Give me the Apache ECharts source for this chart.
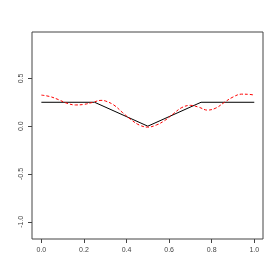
<!DOCTYPE html>
<html><head><meta charset="utf-8">
<script src="https://cdn.jsdelivr.net/npm/echarts@6/dist/echarts.min.js"></script>
<style>html,body{margin:0;padding:0;background:#fff}#c{width:280px;height:280px}</style>
</head><body><div id="c"></div>
<script>
const xTicks = [0, 0.2, 0.4, 0.6, 0.8, 1.0];
const yTicks = [-1.0, -0.5, 0.0, 0.5];
const trueX = [0, 0.25, 0.5, 0.75, 1.0];
const trueY = [0.25, 0.25, 0.0, 0.25, 0.25];
const fitX = [0, 0.04, 0.08, 0.12, 0.16, 0.2, 0.24, 0.28, 0.3, 0.34, 0.38, 0.42, 0.46, 0.5, 0.54, 0.58, 0.62, 0.66, 0.70, 0.74, 0.78, 0.82, 0.86, 0.90, 0.94, 0.98, 1.0];
const fitY = [0.325, 0.31, 0.278, 0.24, 0.222, 0.228, 0.248, 0.27, 0.264, 0.222, 0.145, 0.07, 0.012, -0.01, 0.012, 0.06, 0.13, 0.195, 0.218, 0.198, 0.168, 0.19, 0.25, 0.305, 0.335, 0.332, 0.325];

const chart = echarts.init(document.getElementById('c'), null, {renderer: 'canvas'});
const lab = {color: '#444', fontSize: 7, fontFamily: 'Liberation Sans, Arial, sans-serif'};
chart.setOption({
  animation: false,
  grid: {left: 32, top: 32, right: 17, bottom: 41, show: true, borderColor: '#444', borderWidth: 1, backgroundColor: 'transparent'},
  xAxis: {
    type: 'value', min: -0.044, max: 1.041, position: 'bottom',
    axisLine: {show: false, onZero: false},
    splitLine: {show: false},
    axisTick: {show: true, length: 4, lineStyle: {color: '#444'}, customValues: xTicks},
    axisLabel: Object.assign({margin: 8, customValues: xTicks, formatter: v => v.toFixed(1)}, lab)
  },
  yAxis: {
    type: 'value', min: -1.18, max: 0.985, position: 'left',
    axisLine: {show: false, onZero: false},
    splitLine: {show: false},
    axisTick: {show: true, length: 4, lineStyle: {color: '#444'}, customValues: yTicks},
    axisLabel: Object.assign({margin: 7, rotate: 90, customValues: yTicks, formatter: v => v.toFixed(1)}, lab)
  },
  series: [
    {type: 'line', data: trueX.map((x, i) => [x, trueY[i]]), symbol: 'none', lineStyle: {color: '#000', width: 1}},
    {type: 'line', data: fitX.map((x, i) => [x, fitY[i]]), symbol: 'none', smooth: 0.4, lineStyle: {color: '#ff0000', width: 1, type: [3, 2]}}
  ]
});
</script></body></html>
